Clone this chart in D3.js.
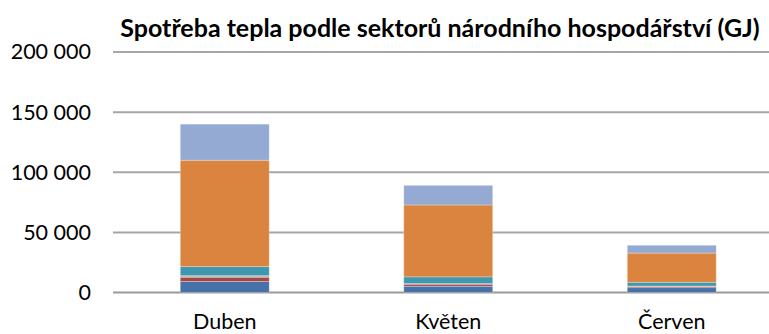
<!DOCTYPE html>
<html>
<head>
<meta charset="utf-8">
<script src="https://cdn.jsdelivr.net/npm/d3@7"></script>
<style>
  html, body { margin: 0; padding: 0; background: #ffffff; }
  svg { display: block; }
  text { font-family: Lato, "Open Sans", sans-serif; fill: #000; }
</style>
</head>
<body>
<svg id="chart" width="769" height="334"></svg>
<script>
// Heat consumption by sector, GJ per month
const months = ["Duben", "Květen", "Červen"];
const sectors = ["Průmysl", "Energetika", "Zemědělství", "Doprava", "Obchod a služby", "Domácnosti", "Ostatní"];
const prumysl       = [9100, 5200, 4000];
const energetika    = [3600, 1700, 1000];
const zemedelstvi   = [800, 300, 250];
const doprava       = [500, 200, 150];
const obchodSluzby  = [7500, 5600, 3100];
const domacnosti    = [88500, 59800, 24300];
const ostatni       = [30000, 16300, 6500];
const yTicks = [0, 50000, 100000, 150000, 200000];
const title = "Spotřeba tepla podle sektorů národního hospodářství (GJ)";

const colors = ["#4672a8", "#a8474a", "#86a453", "#7a629b", "#3f98ae", "#db8440", "#94aad3"];
const seriesValues = [prumysl, energetika, zemedelstvi, doprava, obchodSluzby, domacnosti, ostatni];

const rows = months.map((m, i) => {
  const r = { month: m };
  sectors.forEach((s, k) => { r[s] = seriesValues[k][i]; });
  return r;
});

const svg = d3.select("#chart");
const plot = { left: 113, right: 783.5, top: 52, bottom: 292.5 };

const y = d3.scaleLinear().domain([0, 200000]).range([plot.bottom, plot.top]);
const x = d3.scaleBand().domain(months).range([plot.left, plot.right])
  .paddingInner(0.602).paddingOuter(0.301);

const fmt = v => d3.format(",")(v).replace(/,/g, " ");

// gridlines
svg.append("g").selectAll("line").data(yTicks).join("line")
  .attr("x1", plot.left).attr("x2", 769)
  .attr("y1", d => y(d)).attr("y2", d => y(d))
  .attr("stroke", d => d === 0 ? "#9a9a9a" : "#a6a6a6")
  .attr("stroke-width", 2);

// y axis labels
const yAxis = d3.axisLeft(y).tickValues(yTicks).tickFormat(fmt).tickSize(0).tickPadding(0);
const gy = svg.append("g").attr("transform", "translate(91,0)").call(yAxis);
gy.select(".domain").remove();
gy.selectAll("text").attr("font-size", 21.5).attr("font-family", "Lato, sans-serif").attr("fill", "#000");

// stacked bars
const stack = d3.stack().keys(sectors)(rows);
svg.append("g").selectAll("g").data(stack).join("g")
  .attr("fill", (d, i) => colors[i])
  .selectAll("rect").data(d => d).join("rect")
  .attr("x", d => x(d.data.month))
  .attr("width", x.bandwidth())
  .attr("y", d => y(d[1]))
  .attr("height", d => y(d[0]) - y(d[1]))
  .attr("stroke", "rgba(255,255,255,0.35)")
  .attr("stroke-width", 0.8);

// category labels
const xAxis = d3.axisBottom(x).tickSize(0).tickPadding(0);
const gx = svg.append("g").attr("transform", "translate(0,314)").call(xAxis);
gx.select(".domain").remove();
gx.selectAll("text").attr("font-size", 21.5).attr("font-family", "Lato, sans-serif").attr("fill", "#000");

// title
svg.append("text")
  .attr("x", 440).attr("y", 37)
  .attr("text-anchor", "middle")
  .attr("font-size", 25)
  .attr("font-weight", "bold")
  .text(title);
</script>
</body>
</html>
